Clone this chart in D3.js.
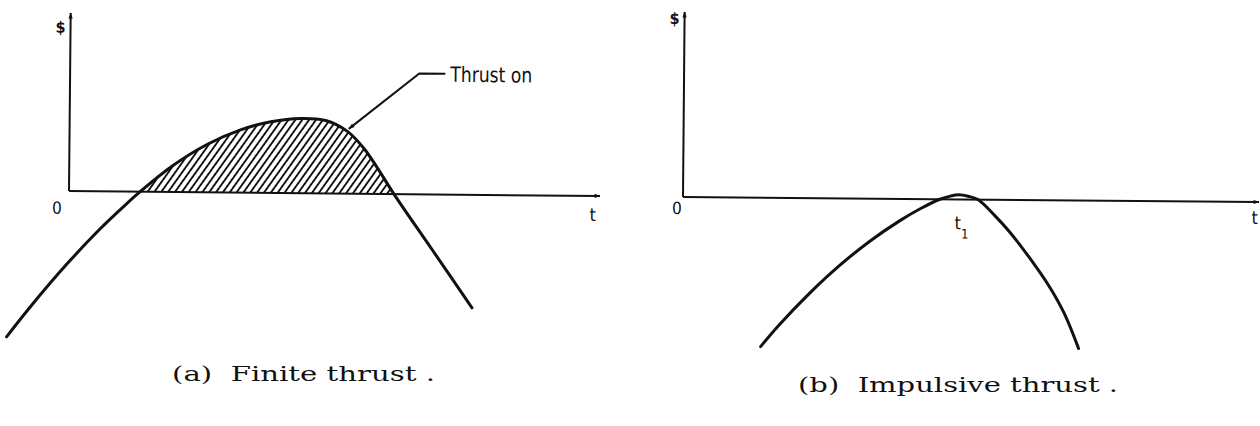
<!DOCTYPE html>
<html>
<head>
<meta charset="utf-8">
<script src="https://cdn.jsdelivr.net/npm/d3@7"></script>
<style>
  html, body { margin: 0; padding: 0; background: #fff; }
  svg { display: block; }
  .lettering { font-family: "DejaVu Sans Condensed", "Liberation Sans Narrow", "DejaVu Sans", sans-serif; fill: #111; }
  .caption { font-family: "DejaVu Serif", "Liberation Serif", serif; fill: #111; white-space: pre; }
</style>
</head>
<body>
<svg id="fig" width="1260" height="426"></svg>
<script>
// Switching function $ versus time t for the two thrust programs.
// Panel (a): finite thrust, the arc above the axis is the thrust-on interval.
const finiteT = [-1.15, -0.68, -0.04, 0.58, 1.02, 1.34, 1.96, 2.60, 3.22, 3.79, 4.35, 4.82, 5.22, 5.54, 5.80, 6.12, 6.86, 7.61];
const finiteS = [-3.29, -2.57, -1.66, -0.86, -0.35, 0.00, 0.60, 1.08, 1.41, 1.60, 1.68, 1.64, 1.41, 1.03, 0.59, 0.00, -1.26, -2.54];
// Panel (b): impulsive thrust, the function just touches zero at t1.
const impulsiveT = [1.37, 1.68, 2.21, 2.73, 3.25, 3.77, 4.12, 4.46, 4.64, 4.79, 4.95, 5.12, 5.42, 5.68, 6.02, 6.37, 6.63, 6.89];
const impulsiveS = [-3.22, -2.76, -2.06, -1.45, -0.92, -0.47, -0.21, 0.00, 0.07, 0.10, 0.07, 0.00, -0.35, -0.70, -1.24, -1.86, -2.43, -3.20];

const axisNames = ["$", "t"];
const originLabel = "0";
const impulseTime = 4.79;          // t1, where panel (b) touches the axis
const thrustLabel = "Thrust on";
const thrustPointerT = 5.22;       // where the "Thrust on" leader meets the curve
const captions = ["(a)  Finite thrust .", "(b)  Impulsive thrust ."];

const svg = d3.select("#fig");
const defs = svg.append("defs");

// diagonal hatching for the thrust-on region
defs.append("pattern")
  .attr("id", "hatch")
  .attr("patternUnits", "userSpaceOnUse")
  .attr("width", 5.6).attr("height", 12)
  .attr("patternTransform", "rotate(35)")
  .append("line")
  .attr("x1", 2.8).attr("y1", -1).attr("x2", 2.8).attr("y2", 13)
  .attr("stroke", "#111").attr("stroke-width", 1.9);

// arrowheads
defs.append("marker")
  .attr("id", "axisArrow")
  .attr("viewBox", "0 0 10 10")
  .attr("refX", 9).attr("refY", 5)
  .attr("markerUnits", "userSpaceOnUse")
  .attr("markerWidth", 9).attr("markerHeight", 6)
  .attr("orient", "auto")
  .append("path").attr("d", "M0,1.5 L10,5 L0,8.5 Z").attr("fill", "#111");

defs.append("marker")
  .attr("id", "leaderArrow")
  .attr("viewBox", "0 0 10 10")
  .attr("refX", 9.5).attr("refY", 5)
  .attr("markerUnits", "userSpaceOnUse")
  .attr("markerWidth", 10).attr("markerHeight", 6)
  .attr("orient", "auto")
  .append("path").attr("d", "M0,1.5 L10,5 L0,8.5 Z").attr("fill", "#111");

function drawPanel(cfg, T, S) {
  const g = svg.append("g")
    .attr("transform", `translate(${cfg.x0},${cfg.y0}) rotate(${cfg.rot})`);

  const x = d3.scaleLinear().domain([0, 10]).range([0, cfg.w]);
  const y = d3.scaleLinear().domain([0, 4]).range([0, -cfg.h]);
  const pts = T.map((t, i) => ({ t, s: S[i] }));

  const curve = d3.curveCatmullRom.alpha(0.5);
  const line = d3.line().x(d => x(d.t)).y(d => y(d.s)).curve(curve);

  // hatched region where the function is positive
  if (cfg.hatch) {
    const roots = pts.filter(d => d.s === 0).map(d => d.t);
    const clipId = "clip-" + cfg.id;
    g.append("clipPath").attr("id", clipId)
      .append("rect")
      .attr("x", x(d3.min(roots))).attr("y", y(4))
      .attr("width", x(d3.max(roots)) - x(d3.min(roots))).attr("height", y(0) - y(4));
    const area = d3.area().x(d => x(d.t)).y0(y(0)).y1(d => y(d.s)).curve(curve);
    g.append("path")
      .attr("d", area(pts))
      .attr("clip-path", `url(#${clipId})`)
      .attr("fill", "url(#hatch)");
  }

  // axes: t to the right, $ upward
  const axisLine = d3.line();
  g.append("path")
    .attr("d", axisLine([[x(0), y(0)], [x(10), y(0)]]))
    .attr("stroke", "#111").attr("stroke-width", 2).attr("fill", "none")
    .attr("marker-end", "url(#axisArrow)");
  g.append("path")
    .attr("d", axisLine([[x(0), y(0)], [x(0), y(4)]]))
    .attr("stroke", "#111").attr("stroke-width", 2).attr("fill", "none")
    .attr("marker-end", "url(#axisArrow)");

  // the switching function
  g.append("path")
    .attr("d", line(pts))
    .attr("stroke", "#111").attr("stroke-width", 3)
    .attr("stroke-linecap", "round")
    .attr("fill", "none");

  // axis lettering
  g.append("text").attr("class", "lettering")
    .attr("x", x(0) - 10).attr("y", y(4) + cfg.dollarDy)
    .attr("text-anchor", "middle").attr("font-size", 16).attr("font-weight", "bold")
    .text(axisNames[0]);
  g.append("text").attr("class", "lettering")
    .attr("x", x(0) + cfg.zeroDx).attr("y", y(0) + cfg.zeroDy)
    .attr("text-anchor", "middle").attr("font-size", 17)
    .text(originLabel);
  g.append("text").attr("class", "lettering")
    .attr("x", x(10) - cfg.tDx).attr("y", y(0) + cfg.tDy)
    .attr("text-anchor", "middle").attr("font-size", 18)
    .text(axisNames[1]);

  return { g, x, y };
}

// (a) finite thrust
const a = drawPanel({ id: "a", x0: 69, y0: 191, w: 531, h: 178, rot: 0.54, hatch: true,
  dollarDy: 20, zeroDx: -12, zeroDy: 23, tDx: 7, tDy: 25 }, finiteT, finiteS);

// leader for "Thrust on"
{
  const iTip = finiteT.indexOf(thrustPointerT);
  const tip = [a.x(thrustPointerT) + 2, a.y(finiteS[iTip]) - 2];
  const elbow = [tip[0] + 70, tip[1] - 56];
  const end = [elbow[0] + 26, elbow[1]];
  a.g.append("path")
    .attr("d", d3.line()([end, elbow, tip]))
    .attr("stroke", "#111").attr("stroke-width", 2).attr("fill", "none")
    .attr("marker-end", "url(#leaderArrow)");
  a.g.append("text").attr("class", "lettering")
    .attr("x", end[0] + 5).attr("y", end[1] + 8)
    .attr("font-size", 21)
    .attr("textLength", 82).attr("lengthAdjust", "spacingAndGlyphs")
    .text(thrustLabel);
}

// (b) impulsive thrust
const b = drawPanel({ id: "b", x0: 683, y0: 197, w: 576, h: 185, rot: 0.5, hatch: false,
  dollarDy: 12, zeroDx: -6, zeroDy: 17, tDx: 4, tDy: 22 }, impulsiveT, impulsiveS);

{
  const t1 = b.g.append("text").attr("class", "lettering")
    .attr("x", b.x(impulseTime) - 4).attr("y", b.y(0) + 30)
    .attr("font-size", 18);
  t1.append("tspan").text("t");
  t1.append("tspan").attr("dy", 9).attr("font-size", 13).text("1");
}

// captions
svg.append("text").attr("class", "caption")
  .attr("x", 172).attr("y", 381)
  .attr("font-size", 21)
  .attr("textLength", 263).attr("lengthAdjust", "spacingAndGlyphs")
  .text(captions[0]);
svg.append("text").attr("class", "caption")
  .attr("x", 798).attr("y", 392)
  .attr("font-size", 21)
  .attr("textLength", 320).attr("lengthAdjust", "spacingAndGlyphs")
  .text(captions[1]);
</script>
</body>
</html>
